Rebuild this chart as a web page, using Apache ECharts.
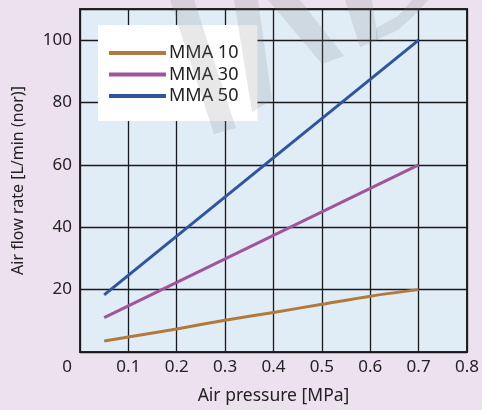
<!DOCTYPE html>
<html><head><meta charset="utf-8">
<script src="https://cdn.jsdelivr.net/npm/echarts@6/dist/echarts.min.js"></script>
<style>html,body{margin:0;padding:0;background:#ede1ef;}#c{width:482px;height:410px;}</style>
</head><body><div id="c"></div>
<script>
var xTicks = [0, 0.1, 0.2, 0.3, 0.4, 0.5, 0.6, 0.7, 0.8];
var yTicks = [20, 40, 60, 80, 100];
var seriesNames = ['MMA 10', 'MMA 30', 'MMA 50'];
var mma10 = [[0.05, 3.5], [0.1, 4.8], [0.2, 7.4], [0.3, 10.2], [0.4, 12.7], [0.5, 15.3], [0.6, 17.9], [0.7, 20]];
var mma30 = [[0.05, 11], [0.7, 60]];
var mma50 = [[0.05, 18.3], [0.7, 100]];
var colors = ['#b07a3c', '#a0559b', '#2f55a0'];
var font = '"Noto Sans", "Open Sans", sans-serif';

var chart = echarts.init(document.getElementById('c'));
var watermark = [
  [[170,0],[194,0],[236,128],[214,134]],
  [[234,0],[258,0],[272,100],[252,112]],
  [[268,0],[300,0],[344,56],[322,64]],
  [[345,0],[372,0],[378,40],[360,47]],
  [[376,40],[398,30],[418,12],[428,0],[412,0],[398,16],[376,28]]
];
chart.setOption({
  backgroundColor: '#ede1ef',
  animation: false,
  grid: {left: 80, right: 13, top: 9, bottom: 58, show: true, backgroundColor: '#e0edf7', borderColor: '#2a2a2a', borderWidth: 2},
  legend: {
    left: 98, top: 25, orient: 'vertical', width: 161,
    backgroundColor: '#ffffff', padding: [18, 19, 15, 11],
    itemWidth: 57, itemHeight: 4, itemGap: 1.5, icon: 'rect',
    textStyle: {fontFamily: font, fontSize: 18, lineHeight: 20, color: '#222', padding: [0, 0, 0, -2]},
    data: seriesNames
  },
  xAxis: {
    type: 'value', min: 0, max: 0.8, interval: 0.1,
    name: 'Air pressure [MPa]', nameLocation: 'middle', nameGap: 35,
    nameTextStyle: {fontFamily: font, fontSize: 17.5, color: '#222'},
    axisLine: {show: false}, axisTick: {show: false},
    splitLine: {show: true, lineStyle: {color: '#1a1a1a', width: 1.3}},
    axisLabel: {
      fontFamily: font, fontSize: 17, color: '#222', margin: 7,
      formatter: function (v) {
        var s = xTicks.find(function (t) { return Math.abs(t - v) < 1e-9; });
        if (s === undefined) return '';
        return s === 0 ? '{z|0}' : String(s);
      },
      rich: {z: {fontFamily: font, fontSize: 17, color: '#222', padding: [0, 26, 0, 0]}}
    }
  },
  yAxis: {
    type: 'value', min: 0, max: 110, interval: 20,
    name: 'Air flow rate [L/min (nor)]', nameLocation: 'middle', nameGap: 54,
    nameTextStyle: {fontFamily: font, fontSize: 16, color: '#222'},
    axisLine: {show: false}, axisTick: {show: false},
    splitLine: {show: true, lineStyle: {color: '#1a1a1a', width: 1.3}},
    axisLabel: {
      fontFamily: font, fontSize: 17, color: '#222', margin: 8,
      formatter: function (v) { return yTicks.indexOf(v) >= 0 ? String(v) : ''; }
    }
  },
  series: [
    {name: seriesNames[0], type: 'line', data: mma10, showSymbol: false, smooth: 0.3, lineStyle: {width: 3, color: colors[0]}, itemStyle: {color: colors[0]}},
    {name: seriesNames[1], type: 'line', data: mma30, showSymbol: false, lineStyle: {width: 3, color: colors[1]}, itemStyle: {color: colors[1]}},
    {name: seriesNames[2], type: 'line', data: mma50, showSymbol: false, lineStyle: {width: 3, color: colors[2]}, itemStyle: {color: colors[2]}}
  ],
  graphic: watermark.map(function (pts) {
    return {type: 'polygon', z: 100, silent: true, shape: {points: pts}, style: {fill: 'rgba(128,128,128,0.18)'}};
  })
});
</script></body></html>
